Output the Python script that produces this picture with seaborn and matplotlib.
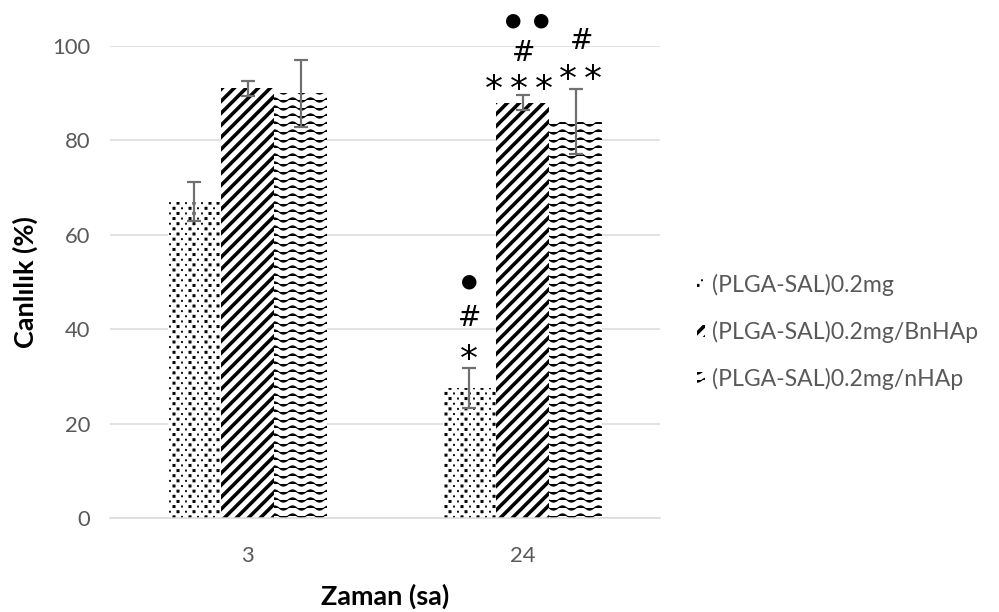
import numpy as np
import pandas as pd
import matplotlib
matplotlib.use("Agg")
import matplotlib.pyplot as plt
import matplotlib.hatch as mhatch
from matplotlib.path import Path
import seaborn as sns

# ---- data -------------------------------------------------------------
times = ["3", "24"]
groups = ["(PLGA-SAL)0.2mg", "(PLGA-SAL)0.2mg/BnHAp", "(PLGA-SAL)0.2mg/nHAp"]
plga_sal = [67.0, 27.5]
plga_sal_bnhap = [91.0, 88.0]
plga_sal_nhap = [90.0, 84.0]
err_plga_sal = [4.1, 4.2]
err_plga_sal_bnhap = [1.6, 1.6]
err_plga_sal_nhap = [7.1, 6.9]
y_ticks = [0, 20, 40, 60, 80, 100]

# significance marks: time, group index, symbols, height
marks_time = ["24", "24", "24", "24", "24", "24", "24", "24"]
marks_group = [0, 0, 0, 1, 1, 1, 2, 2]
marks_text = ["*", "#", "●", "* * *", "#", "● ●", "* *", "#"]
marks_y = [35.6, 43.0, 50.2, 92.8, 99.2, 105.5, 94.9, 101.7]

# ---- custom fill patterns ---------------------------------------------
MOVE, LINE, CLOSE = Path.MOVETO, Path.LINETO, Path.CLOSEPOLY


class ThickStripes(mhatch.HatchPatternBase):
    """Bold bands rising to the right ('/')."""
    def __init__(self, hatch, density):
        self.offsets = np.arange(-7, 7) / 6.0 if "/" in hatch else np.array([])
        self.num_vertices = 5 * len(self.offsets)

    def set_vertices_and_codes(self, vertices, codes):
        w = 0.048
        y0, y1 = -0.1, 1.1
        for i, c in enumerate(self.offsets):
            vertices[5 * i:5 * i + 5] = [(y0 - c - w, y0), (y0 - c, y0),
                                         (y1 - c, y1), (y1 - c - w, y1),
                                         (0.0, 0.0)]
            codes[5 * i:5 * i + 5] = [MOVE, LINE, LINE, LINE, CLOSE]


class StaggeredDots(mhatch.HatchPatternBase):
    """Staggered dot screen with alternating dot sizes ('.')."""
    def __init__(self, hatch, density):
        self.pts = []
        if "." in hatch:
            rows, cols = 14, 9
            for r in range(rows):
                for i in range(cols):
                    x = (i + 0.25 + 0.5 * (r % 2)) / cols
                    y = (r + 0.5) / rows
                    s = (0.95 if (r + i) % 2 == 0 else 0.4) / 72.0
                    self.pts.append((x, y, s))
        self.num_vertices = 5 * len(self.pts)

    def set_vertices_and_codes(self, vertices, codes):
        for i, (x, y, s) in enumerate(self.pts):
            vertices[5 * i:5 * i + 5] = [(x - s, y - s), (x + s, y - s),
                                         (x + s, y + s), (x - s, y + s),
                                         (0.0, 0.0)]
            codes[5 * i:5 * i + 5] = [MOVE, LINE, LINE, LINE, CLOSE]


class WavyLines(mhatch.HatchPatternBase):
    """Horizontal wavy lines ('o')."""
    def __init__(self, hatch, density):
        self.rows = 9 if "o" in hatch else 0
        self.npts = 121
        self.num_vertices = self.rows * self.npts

    def set_vertices_and_codes(self, vertices, codes):
        x = np.linspace(0.0, 1.0, self.npts)
        amp = 2.1 / 72.0
        for r in range(self.rows):
            sl = slice(r * self.npts, (r + 1) * self.npts)
            vertices[sl, 0] = x
            vertices[sl, 1] = (r + 0.5) / self.rows + amp * np.sin(2 * np.pi * 4 * x)
            codes[sl] = LINE
            codes[r * self.npts] = MOVE


mhatch._hatch_types[:] = [ThickStripes, StaggeredDots, WavyLines]
hatches = [".", "/", "o"]

# ---- figure -------------------------------------------------------------
sns.set_style("white")
plt.rcParams["font.family"] = ["Lato", "DejaVu Sans"]
plt.rcParams["hatch.linewidth"] = 1.1
plt.rcParams["hatch.color"] = "black"

DPI = 72
fig = plt.figure(figsize=(999 / DPI, 612 / DPI), dpi=DPI)
ax = fig.add_axes([110 / 999, 94 / 612, 550 / 999, 472 / 612])

df = pd.DataFrame({
    "Zaman": times * 3,
    "Canlılık": plga_sal + plga_sal_bnhap + plga_sal_nhap,
    "Grup": [g for g in groups for _ in times],
})

sns.barplot(data=df, x="Zaman", y="Canlılık", hue="Grup", order=times,
            hue_order=groups, palette=["white"] * 3, saturation=1,
            width=0.58, errorbar=None, linewidth=0, edgecolor="black",
            legend=False, ax=ax, zorder=2)

errors = [err_plga_sal, err_plga_sal_bnhap, err_plga_sal_nhap]
for container, hatch, err in zip(ax.containers, hatches, errors):
    xs, ys = [], []
    for bar in container:
        bar.set_hatch(hatch)
        bar.set_edgecolor("black")
        bar.set_linewidth(0)
        xs.append(bar.get_x() + bar.get_width() / 2)
        ys.append(bar.get_height())
    ax.errorbar(xs, ys, yerr=err, fmt="none", ecolor="#707070",
                elinewidth=2.2, capsize=7, capthick=2.2, zorder=3)

# significance symbols above the bars; several symbols are spread sideways
sym_size = {"*": 36, "#": 28, "●": 19}
sym_lift = {"*": 0.27, "#": 0.1, "●": 0.0}   # ink centre above the text box centre (em)
sym_gap = {"*": 25, "●": 28}
mark_shift = [0, 0, 0, -4, 1, 5, 5, 6]       # sideways nudge in points
for t, gi, txt, y, sh in zip(marks_time, marks_group, marks_text, marks_y, mark_shift):
    bar = ax.containers[gi][times.index(t)]
    xc = bar.get_x() + bar.get_width() / 2
    parts = txt.split()
    for k, s in enumerate(parts):
        dx = sh + (k - (len(parts) - 1) / 2) * sym_gap.get(s, 0)
        fs = sym_size[s]
        ax.annotate(s, (xc, y), xytext=(dx, -sym_lift[s] * fs),
                    textcoords="offset points", ha="center", va="center",
                    fontsize=fs, family=["DejaVu Sans"], color="black",
                    annotation_clip=False, zorder=4)

ax.set_xlim(-0.5, 1.5)
ax.set_ylim(0, 100)
ax.set_yticks(y_ticks)
ax.grid(axis="y", color="#d9d9d9", linewidth=1.5, zorder=0)
ax.set_axisbelow(True)
for side in ["top", "right", "left"]:
    ax.spines[side].set_visible(False)
ax.spines["bottom"].set_color("#d9d9d9")
ax.spines["bottom"].set_linewidth(1.5)
ax.tick_params(axis="both", length=0, labelsize=22, labelcolor="#595959")
ax.tick_params(axis="y", pad=20)
ax.tick_params(axis="x", pad=28)

ax.set_xlabel("Zaman (sa)", fontsize=27, fontweight="bold", color="black")
ax.set_ylabel("Canlılık (%)", fontsize=27, fontweight="bold", color="black")
ax.xaxis.set_label_coords(0.5, -0.14)
ax.yaxis.set_label_coords(-0.13, 0.5)

leg = fig.legend(handles=ax.containers, labels=groups, loc="center left",
                 bbox_to_anchor=(697 / 999, 1 - 332 / 612), frameon=False,
                 fontsize=23, handlelength=0.36, handleheight=0.4,
                 handletextpad=0.3, labelspacing=1.1, borderpad=0,
                 borderaxespad=0)
for text in leg.get_texts():
    text.set_color("#595959")

fig.savefig("out.png", dpi=DPI)
